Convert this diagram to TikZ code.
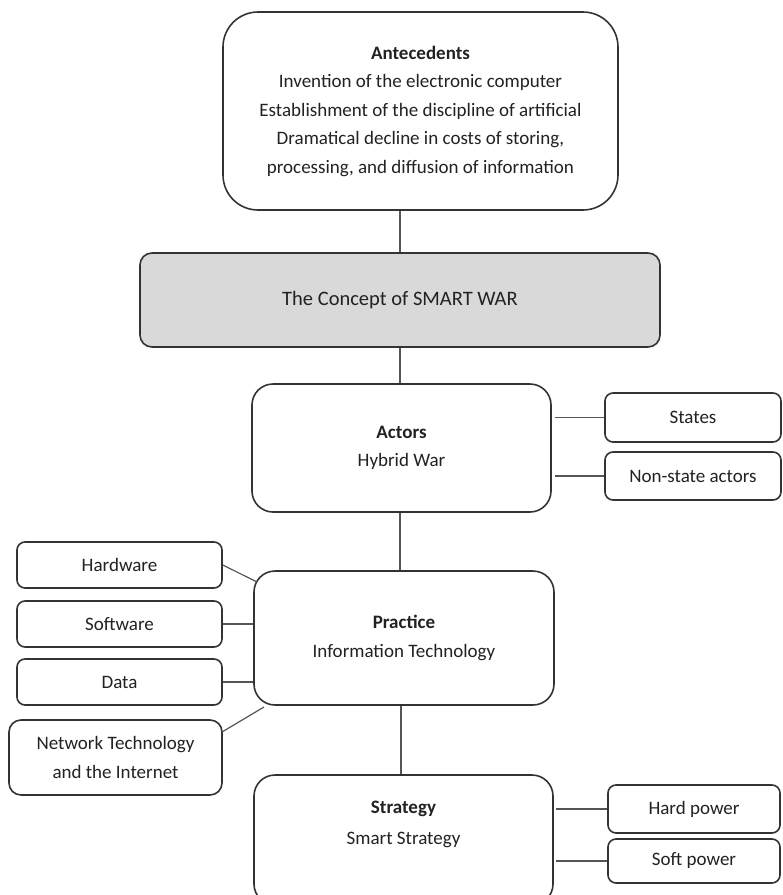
\documentclass[tikz,border=0pt]{standalone}
\usepackage{fontspec}
\setmainfont{Carlito}
\usetikzlibrary{calc}
\definecolor{boxline}{HTML}{333333}
\definecolor{conline}{HTML}{555555}
\definecolor{concfill}{HTML}{D9D9D9}
\definecolor{txt}{HTML}{222222}
\begin{document}
\begin{tikzpicture}[x=1pt,y=-1pt,
  box/.style={draw=boxline,line width=1.6pt,fill=white,align=center,inner sep=0pt,
    text=txt,font=\fontsize{19}{28.5}\selectfont},
  mainbox/.style={box,rounded corners=21pt,minimum width=299pt},
  sidebox/.style={box,rounded corners=8pt},
  con/.style={draw=conline,line width=1.2pt}]
\useasboundingbox (0,0) rectangle (783,895);
% main column
\node[box,rounded corners=35pt,minimum width=395pt,minimum height=198pt] (ant) at (420.5,111)
  {\textbf{Antecedents}\\Invention of the electronic computer\\Establishment of the discipline of artificial\\Dramatical decline in costs of storing,\\processing, and diffusion of information};
\node[box,rounded corners=12pt,fill=concfill,minimum width=520pt,minimum height=94pt,
  font=\fontsize{20.5}{28}\selectfont] (conc) at (400,300) {The Concept of SMART WAR};
\node[mainbox,minimum height=128pt] (act) at (401.5,448) {\textbf{Actors}\\Hybrid War};
\node[mainbox,minimum height=134pt,minimum width=300pt] (prac) at (404,638) {\textbf{Practice}\\Information Technology};
\node[mainbox,minimum height=130pt] (strat) at (403.5,840) {};
\node[align=center,text=txt,font=\fontsize{19}{30.5}\selectfont,inner sep=0pt] (strattext) at (403.5,824.5) {\textbf{Strategy}\\Smart Strategy};
% side boxes
\node[sidebox,minimum width=176pt,minimum height=49pt] (states) at (693,417.5) {States};
\node[sidebox,minimum width=176pt,minimum height=48pt] (nonstate) at (693,476) {Non-state actors};
\node[sidebox,minimum width=205pt,minimum height=46pt] (hw) at (119.5,565) {Hardware};
\node[sidebox,minimum width=205pt,minimum height=46pt] (sw) at (119.5,624) {Software};
\node[sidebox,minimum width=205pt,minimum height=46pt] (data) at (119.5,682) {Data};
\node[sidebox,rounded corners=12pt,minimum width=213pt,minimum height=75pt] (nw) at (115.5,757.5) {Network Technology\\and the Internet};
\node[sidebox,minimum width=172pt,minimum height=48pt] (hard) at (694,809) {Hard power};
\node[sidebox,minimum width=172pt,minimum height=44pt] (soft) at (694,861) {Soft power};
% connector end points on rounded corners
\coordinate (hwend) at (257,582);
\coordinate (nwstart) at (222,732);
\coordinate (nwend) at (264,707);
% vertical connectors
\draw[con] (ant.south -| conc.north) -- (conc.north);
\draw[con] (conc.south) -- (conc.south |- act.north);
\draw[con] (act.south -| 400,0) -- (prac.north -| 400,0);
\draw[con] (prac.south -| 401,0) -- (strat.north -| 401,0);
% side connectors
\draw[con] ($(states.west -| act.east)+(3,0)$) -- (states.west);
\draw[con] ($(nonstate.west -| act.east)+(3,0)$) -- (nonstate.west);
\draw[con] (hw.east) -- (hwend);
\draw[con] (sw.east) -- (sw.east -| prac.west);
\draw[con] (data.east) -- (data.east -| prac.west);
\draw[con] (nwstart) -- (nwend);
\draw[con] ($(hard.west -| strat.east)+(2,0)$) -- (hard.west);
\draw[con] ($(soft.west -| strat.east)+(2,0)$) -- (soft.west);
\end{tikzpicture}
\end{document}
